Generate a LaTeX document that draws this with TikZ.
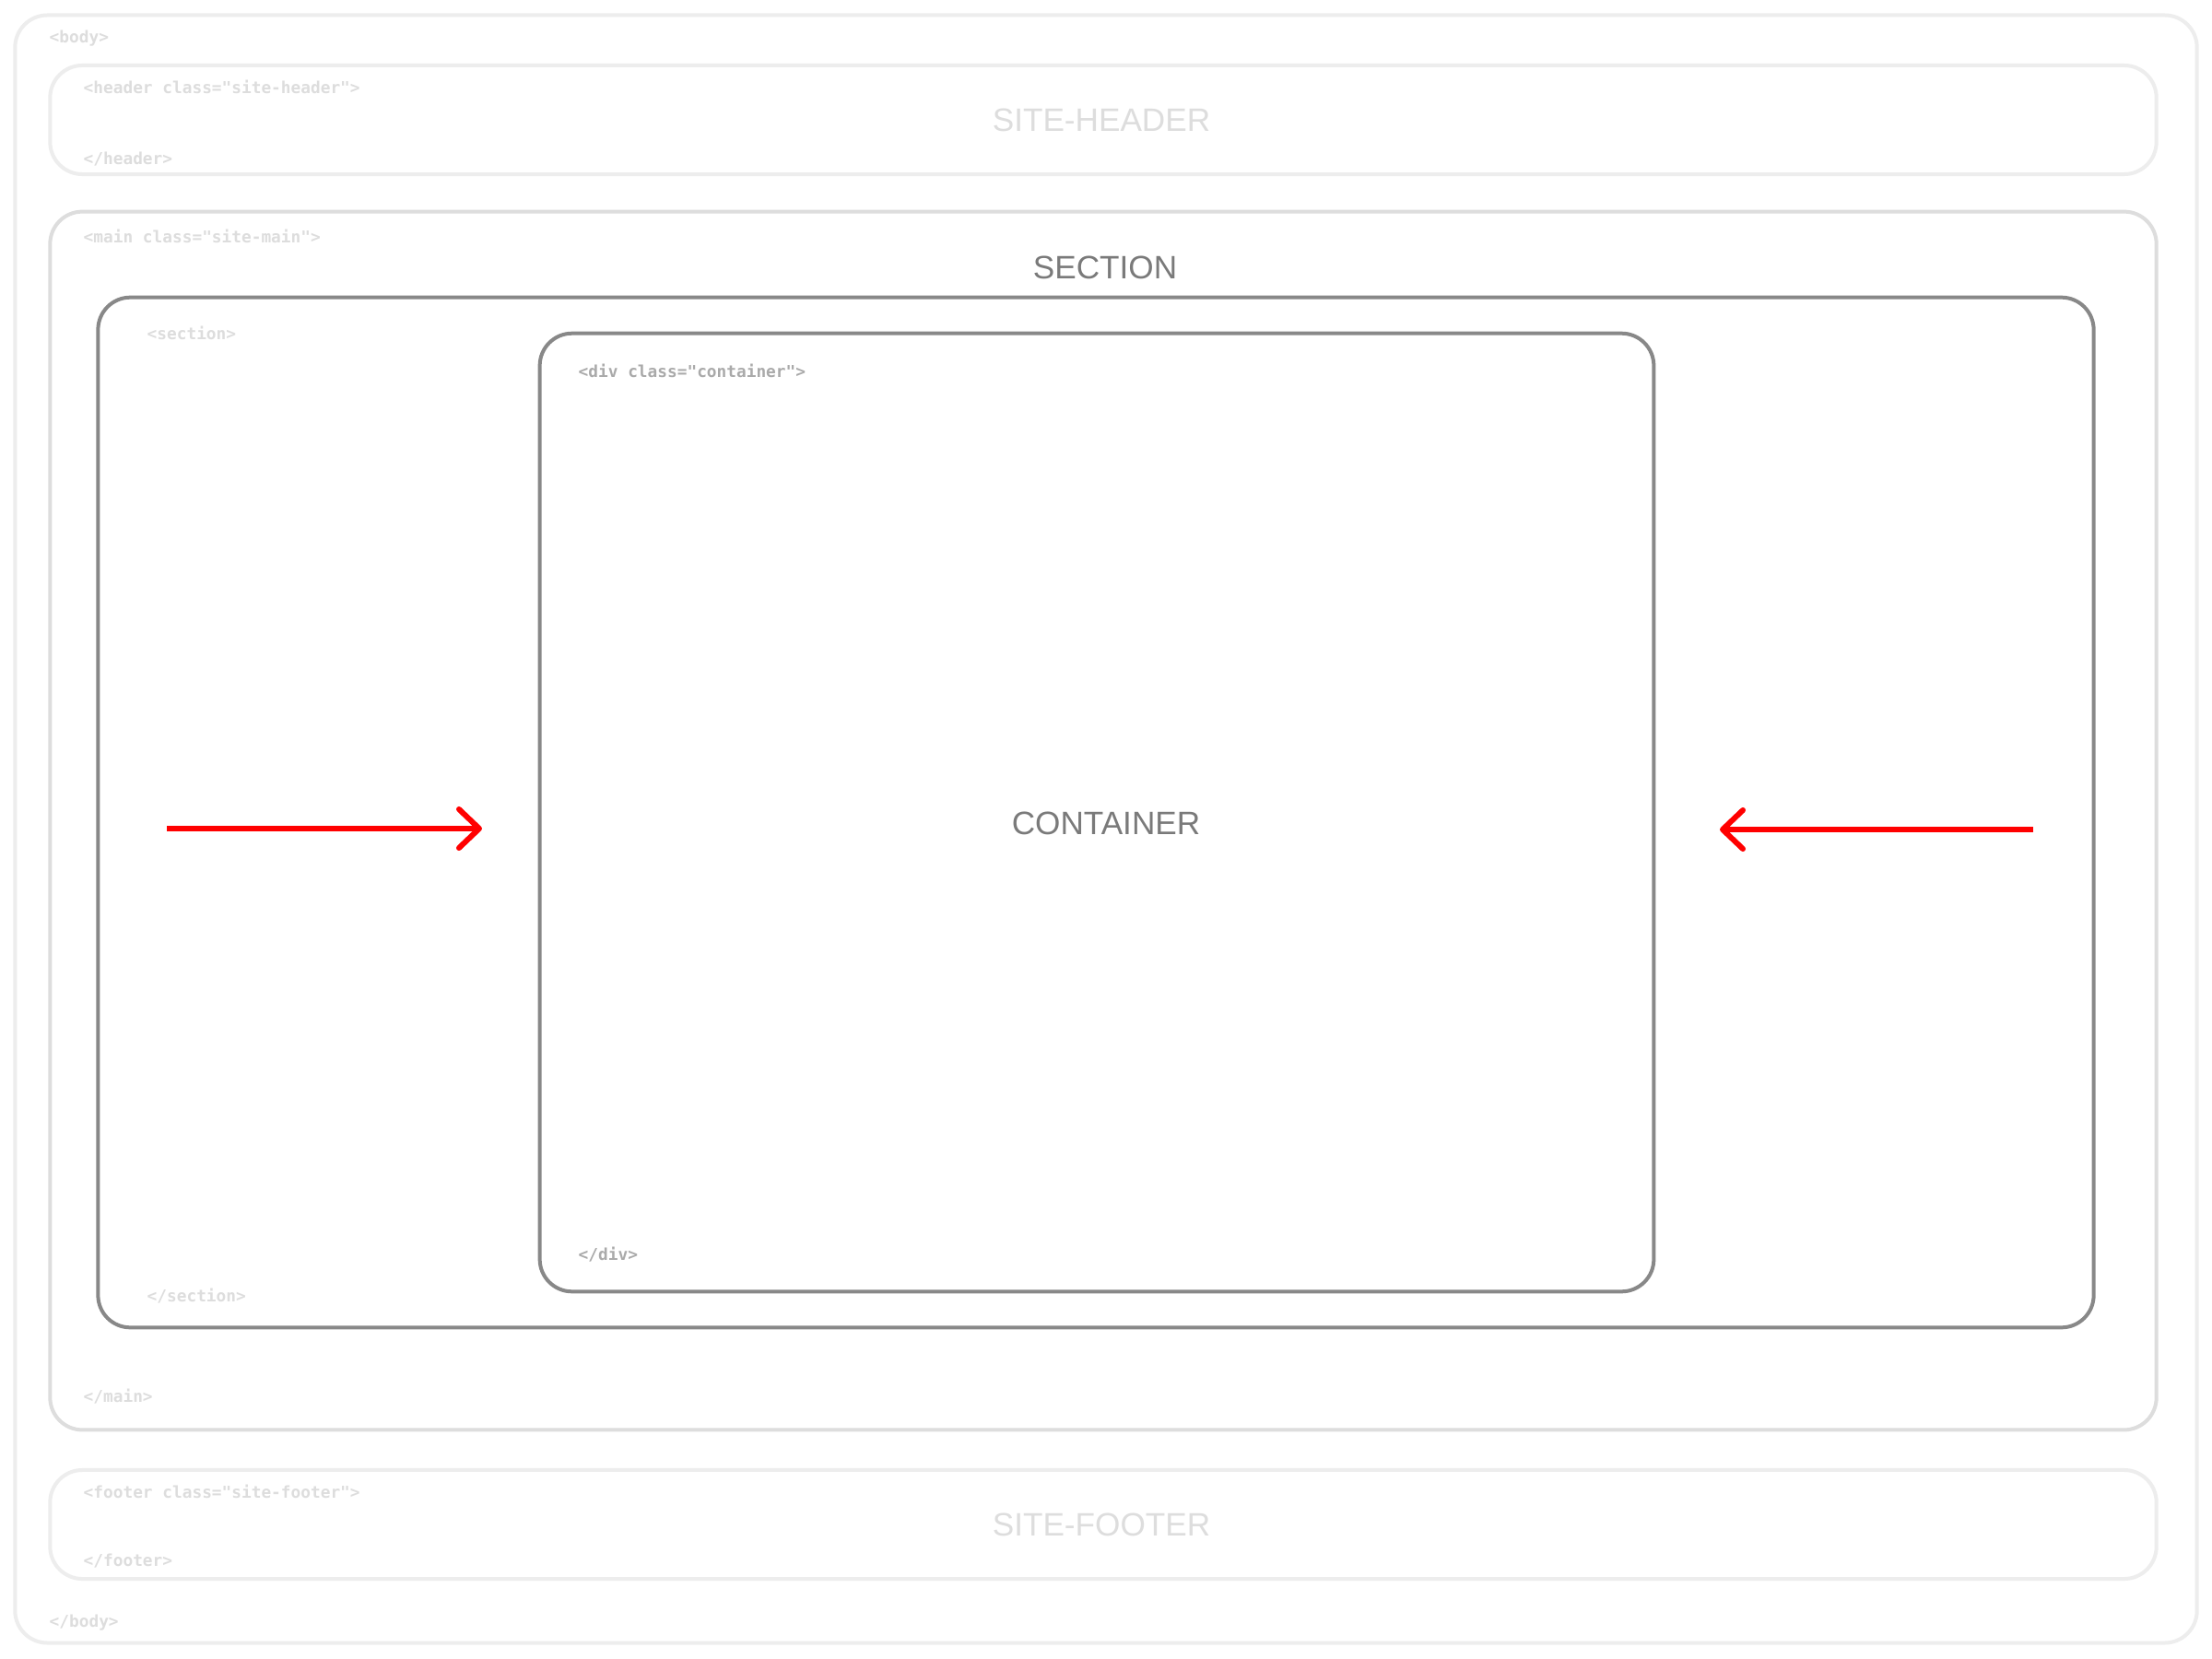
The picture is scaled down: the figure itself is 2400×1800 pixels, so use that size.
\documentclass[tikz,border=0pt]{standalone}
\usepackage{fontspec}
\setmainfont{Liberation Sans}
\newfontfamily\tagfont{DejaVu Sans Mono}
\usetikzlibrary{arrows.meta}
\definecolor{cBody}{HTML}{EDEDED}
\definecolor{cMain}{HTML}{DDDDDD}
\definecolor{cDark}{HTML}{888888}
\definecolor{cTag}{HTML}{DDDDDD}
\definecolor{cTagDark}{HTML}{AAAAAA}
\definecolor{cLabel}{HTML}{7A7A7A}
\definecolor{cLabelLight}{HTML}{DDDDDD}
\begin{document}
\begin{tikzpicture}[x=0.01cm,y=-0.01cm,
  box/.style={draw, line width=0.04cm, rounded corners=0.35cm, inner sep=0pt},
  tag/.style={anchor=base west, inner sep=0pt, font=\tagfont\bfseries\fontsize{5.06}{6}\selectfont, text=cTag},
  biglabel/.style={anchor=base, inner sep=0pt, font=\fontsize{10}{12}\selectfont},
  redarrow/.style={draw=red, line width=0.06cm, -{Straight Barb[length=0.22cm,width=0.42cm,round]}}]
\useasboundingbox (0,0) rectangle (2400,1800);
\fill[white] (0,0) rectangle (2400,1800);
% boxes
\node[box, draw=cBody, minimum width=23.66cm, minimum height=17.65cm] (body) at (1200,899.5) {};
\node[box, draw=cBody, minimum width=22.84cm, minimum height=1.18cm] (header) at (1197,130) {};
\node[box, draw=cMain, minimum width=22.84cm, minimum height=13.21cm] (main) at (1197,890.5) {};
\node[box, draw=cDark, minimum width=21.64cm, minimum height=11.17cm] (section) at (1189,881.5) {};
\node[box, draw=cDark, minimum width=12.08cm, minimum height=10.39cm] (container) at (1190,881.5) {};
\node[box, draw=cBody, minimum width=22.84cm, minimum height=1.18cm] (footer) at (1197,1654) {};
% tags
\node[tag] (tbody) at (53,47) {<body>};
\node[tag] (tbodyend) at (53,1765) {</body>};
\node[tag] (theader) at (90,102) {<header class="site-header">};
\node[tag] (theaderend) at (90,179) {</header>};
\node[tag] (tmain) at (90,263) {<main class="site-main">};
\node[tag] (tmainend) at (90,1521) {</main>};
\node[tag] (tsection) at (159,368) {<section>};
\node[tag] (tsectionend) at (159,1412) {</section>};
\node[tag, text=cTagDark] (tdiv) at (627,409) {<div class="container">};
\node[tag, text=cTagDark] (tdivend) at (627,1367) {</div>};
\node[tag] (tfooter) at (90,1625) {<footer class="site-footer">};
\node[tag] (tfooterend) at (90,1699) {</footer>};
% labels
\node[biglabel, text=cLabelLight] (lheader) at (1195,143) {SITE-HEADER};
\node[biglabel, text=cLabel] (lsection) at (1199,302) {SECTION};
\node[biglabel, text=cLabel] (lcontainer) at (1200,905) {CONTAINER};
\node[biglabel, text=cLabelLight] (lfooter) at (1195,1666) {SITE-FOOTER};
% arrows
\coordinate (la1) at (181,899);
\coordinate (la2) at (523,899);
\coordinate (ra1) at (2206,900);
\coordinate (ra2) at (1866,900);
\draw[redarrow] (la1) -- (la2);
\draw[redarrow] (ra1) -- (ra2);
\end{tikzpicture}
\end{document}
